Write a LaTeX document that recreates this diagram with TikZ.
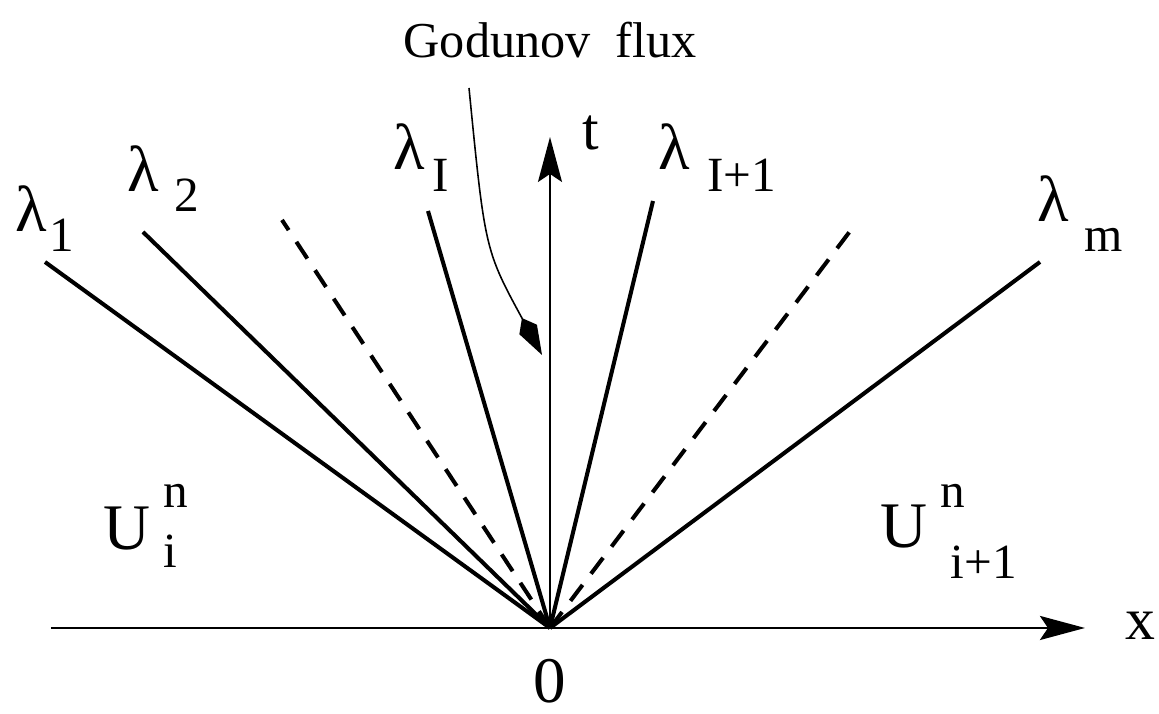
\documentclass[tikz,border=0pt]{standalone}
\usepackage{fontspec}
\setmainfont{Liberation Serif}
\usetikzlibrary{arrows.meta}

\newcommand{\bigsz}{\fontsize{18.5}{20}\selectfont}
\newcommand{\subsz}{\fontsize{14}{16}\selectfont}
% lambda with a lowered index: {index}{gap}{drop}
\newcommand{\lamsub}[3]{λ\hspace{#2}\raisebox{-#3}{\subsz #1}}

\begin{document}
\begin{tikzpicture}[
  wave/.style={line width=1.15pt},
  dashwave/.style={line width=1.15pt, dash pattern=on 0.2cm off 0.14cm},
  axis/.style={line width=0.8pt, -{Stealth[length=0.45cm, width=0.24cm, inset=0.08cm]}},
  lbl/.style={inner sep=0pt, anchor=base west, font=\bigsz},
  flux/.style={line width=0.45pt, -{Kite[length=0.42cm, width=0.2cm, inset=0.13cm]}}
]
  \useasboundingbox (0,0) rectangle (11.59,7.14);

  % ===== Origin and axes =====
  \coordinate (o) at (5.50,0.86);
  \coordinate (xl) at (0.51,0.86);
  \coordinate (xr) at (10.85,0.86);
  \coordinate (tt) at (5.50,5.77);
  \draw[axis] (xl) -- (xr);
  \draw[axis, line width=0.6pt] (o) -- (tt);

  % ===== Wave fan =====
  \coordinate (w1) at (0.45,4.52);
  \coordinate (w2) at (1.43,4.82);
  \coordinate (wl) at (2.82,4.94);
  \coordinate (wI) at (4.28,5.03);
  \coordinate (wJ) at (6.53,5.13);
  \coordinate (wr) at (8.57,4.92);
  \coordinate (wm) at (10.40,4.52);
  \foreach \w in {w1,w2,wI,wJ,wm}
    \draw[wave] (o) -- (\w);
  \foreach \w in {wl,wr}
    \draw[dashwave] (o) -- (\w);

  % ===== Wave labels =====
  \node[lbl] (l1) at (0.15,4.82) {\lamsub{1}{0.02cm}{0.2cm}};
  \node[lbl] (l2) at (1.27,5.22) {\lamsub{2}{0.15cm}{0.2cm}};
  \node[lbl] (lI) at (3.93,5.44) {\lamsub{I}{0.07cm}{0.22cm}};
  \node[lbl] (lJ) at (6.58,5.44) {\lamsub{I+1}{0.17cm}{0.22cm}};
  \node[lbl] (lm) at (10.37,4.92) {\lamsub{m}{0.15cm}{0.3cm}};

  % ===== Axis labels =====
  \node[lbl, font=\fontsize{17}{18}\selectfont] (tlab) at (5.82,5.64) {t};
  \node[lbl, font=\fontsize{17}{18}\selectfont] (xlab) at (11.25,0.74) {x};
  \node[lbl, anchor=base] (zero) at (5.50,0.11) {0};

  % ===== Cell states =====
  \node[lbl] (ul) at (1.03,1.64)
    {U\hspace{0.13cm}\raisebox{0.42cm}{\rlap{\subsz n}}\raisebox{-0.18cm}{\subsz i}};
  \node[lbl] (ur) at (8.80,1.66)
    {U\hspace{0.13cm}\raisebox{0.40cm}{\rlap{\subsz n}}\hspace{0.1cm}\raisebox{-0.31cm}{\subsz i+1}};

  % ===== Godunov flux =====
  \node[lbl, font=\fontsize{14.3}{16}\selectfont] (gf) at (4.03,6.56) {Godunov\ \ flux};
  \coordinate (gs) at (4.69,6.26);
  \coordinate (ge) at (5.42,3.59);
  \draw[flux] (gs) .. controls (4.85,4.64) .. (ge);
\end{tikzpicture}
\end{document}
